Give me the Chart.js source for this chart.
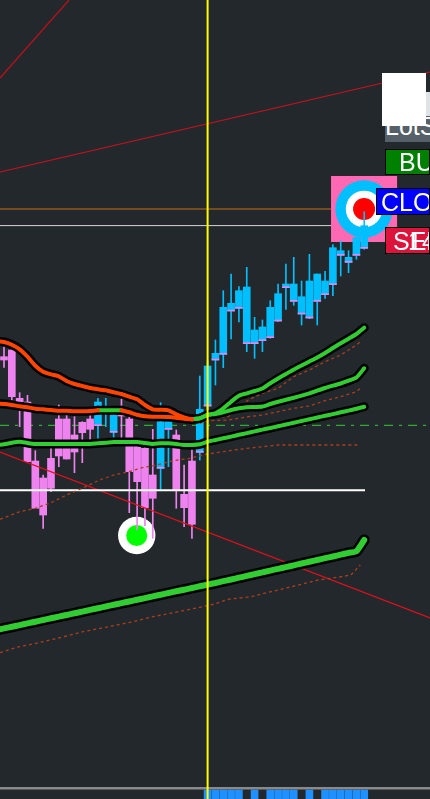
<!DOCTYPE html>
<html>
<head>
<meta charset="utf-8">
<title>chart</title>
<script src="https://cdn.jsdelivr.net/npm/chart.js@4"></script>
<style>
    html, body { margin: 0; padding: 0; background: #23282c; overflow: hidden; }
    #wrap { position: relative; width: 430px; height: 799px; overflow: hidden; }
    canvas { display: block; }
    .btn { position: absolute; box-sizing: border-box; white-space: nowrap; overflow: hidden; color: #fff;
           font-family: "Liberation Sans", sans-serif; font-size: 25px; line-height: 24px; border: 1px solid #000; }
    .btn span { position: absolute; top: 0; }
</style>
</head>
<body>
<div id="wrap">
    <canvas id="priceChart" width="430" height="799"></canvas>
    <div class="btn" style="left:385px;top:92px;width:45px;height:26px;background:#dfe3e6;border:0;color:#3a5a8a"><span style="left:2px">I</span></div>
    <div class="btn" style="left:385px;top:116px;width:45px;height:26px;background:#566068;border:0"><span style="left:0;top:-2px">LotSize</span></div>
    <div style="position:absolute;left:382px;top:73px;width:44px;height:53px;background:#fff"></div>
    <div class="btn" style="left:385px;top:149px;width:45px;height:26px;background:#008000"><span style="left:13px">BUY</span></div>
    <div class="btn" style="left:376px;top:188px;width:54px;height:27px;background:#0000ff"><span style="left:4px;top:1px">CLOSE</span></div>
    <div class="btn" style="left:385px;top:227px;width:45px;height:27px;background:#dc143c"><span style="left:7px;top:1px">SELL</span><span style="left:22px;top:1px">14</span></div>
</div>

<script>
// candles, index 0 is the left most one on screen
const opens = [442.3,449,400.7,397,338,321,340.7,380,380,364,376.7,380,373.3,387,366.7,384,380,354,350.7,324,330.7,369.7,364,304.7,338,346.7,393,439,444.7,488,490.7,455.3,455.3,458.3,461.3,478,511.3,497.7,485,481,497.7,504.3,514.3,543.7,536.7,543.7,550.7];
const closes = [439,402.3,397,337.3,290.7,284,310.7,343,340,347,366.3,369.7,397,389.7,383.7,383,327.3,317.3,291.3,300.7,377.3,377.3,309,291.3,274.7,389.7,433,445.7,491.7,495.7,508.3,512,469,472,491.7,505.3,515,515,502.3,518,525,518,551.3,548.3,541.7,561.3,573.3];
const highs = [452.3,449,406.3,403.7,348.3,324,350.7,394,384,382.3,377.3,385.7,400.7,400.7,389,400,389,360.7,359,369.7,396.3,380.7,369,334,349,423,438,459,508.3,525,512.3,531.7,481.7,479,498.3,515,535,541.7,518,544.7,525,527.7,554.3,558,548.3,563,587.3];
const lows = [431.7,399,372.3,337.3,290.7,270.7,307.3,332.3,340,326.3,336.3,359.7,360.7,372.3,361.7,355.7,286.3,269,273.3,260.7,309.7,332.3,290.7,272.3,260.7,339,369,414,431.3,460,477,447.3,440.7,447.3,460.7,477.3,489.7,493.7,474,480.3,474,500.7,503.3,523,526.3,539.7,549.7];

// moving averages, one value per candle
const emaFastOrange = [458,457,454.3,449.7,442.3,433.3,427.3,424.7,422.7,418,415,413,411,409.7,408.7,406.7,405,402.3,399.7,394,389.7,389.3,388.7,384.7,381.7,379.7]; // from -1
const emaMidOrangeA = [395.3,395,394,392.7,391.7,390.3,389.7,389,388.3,388.3,387.7,387.7,388,388.7]; // from -1
const emaMidGreen = [388.7,388.7,388.7,388.7]; // from 12
const emaMidOrangeB = [388.7,386.7,384.3,382.7,382.3,382.3,382,381.3,380.3,379.7]; // from 15
const emaFastGreen = [379.7,380.7,384,385.7,390.7,397.3,403.3,405.7,408,410.5,415.7,420.5,425,429.5,433.5,437.5,441.5,446,451,455.7,460.3,465,471.3]; // from 24
const emaMidGreen2 = [379.7,380.7,384,385,386.7,389,390.7,391.7,392,392.5,395,397.3,399.3,401.2,403.3,405.7,408.3,411,413.3,415.5,418.3,421.5,430.7]; // from 24
const emaSlowGreen = [354,354.7,356.3,357.3,356,355,355,355,355,355,355,355,355,355.7,356.3,357,357,357,357,356,355,355.7,355.7,355,354,354,354.7,357.3,359,360.7,362.4,364.2,365.9,367.6,369.4,371,372.8,374.5,376.2,378,379.7,381.5,383.2,384.9,386.7,388.4,390.2,392.3]; // from -1
const emaLongGreen = [168.9,170.6,172.2,173.9,175.6,177.3,179,180.7,182.4,184,185.7,187.4,189.1,190.8,192.5,194.2,195.9,197.5,199.2,200.9,202.6,204.3,206,207.7,209.3,211,212.7,214.4,216,217.8,219.5,221.3,223.1,224.9,226.6,228.4,230.2,231.9,233.7,235.5,237.2,239,240.8,242.5,244.3,246.1,247.8,259]; // from -1

// dotted envelopes as [candle, price]
const envTop = [[27,381.7],[28.6,382.3],[31.2,399],[33,405.7],[35,410.7],[37,422.3],[39,429],[41,437.3],[43,444],[45,454],[45.5,457.3]];
const envMid = [[25,375.7],[26,378.3],[28.6,379],[31.2,382.3],[33,384],[35,387.3],[37,390.7],[39,393],[41,398.3],[43,402.3],[45,407.3],[45.5,410.7]];
const envLow = [[-0.5,279.7],[2,287.3],[4,290.7],[6,296.3],[8,304],[10,310.7],[12.2,319],[14,324],[16,327.3],[17.8,331.7],[19.5,334],[21.6,338.3],[23.7,340.7],[26,345],[28,347.3],[30,349.7],[33,352.3],[35,354],[45.5,354]];
const envLong = [[-0.5,146.3],[1.6,151.7],[3.7,155],[5.9,159],[8,163],[10.1,167.3],[12.3,170.7],[14.4,174],[16.5,177.3],[18.6,181.7],[20.8,185],[22.9,188.3],[25,191.7],[26.9,195],[28.6,199.7],[31.6,202.3],[34.1,207.3],[37.1,213],[40.1,219],[42.6,221.7],[44.3,224],[45.5,234]];

// trend lines and levels
const trendA = [[-0.51,721],[8.3,799]];
const trendB = [[-0.51,627],[54.4,727]];
const trendC = [[-0.51,347],[54.4,181]];
const levelWhite = [[-0.51,308.7],[46.1,308.7]];
const levelOrange = [[-0.51,590],[54.4,590]];
const levelThin = [[-0.51,573.4],[46,573.4]];
const levelDash = [[-0.51,373.7],[54.4,373.7]];
const cursorLine = [[26,0],[26,799]];
const panelLine = [[-0.51,10.8],[54.4,10.8]];

// lower panel, the candles with a histogram column
const histCandles = [26,27,28,29,30,32,34,35,36,37,39,41,42,43,44,45,46];
const histTop = 9;

// signal markers [candle, price]
const targetAt = [[45.98,590]];
const buyAt = [[16.95,263.5]];

const BLUE = '#00bfff';
const PINK = '#ee82ee';
const GREEN = '#32cd32';
const RED = '#ff4500';
const ENV = '#ad3e1c';

const toPts = rows => rows.map(r => ({ x: r[0], y: r[1] }));
const fromIdx = (start, vals) => vals.map((v, i) => ({ x: start + i, y: v }));

function lineSet(data, color, width, order, extra) {
    return Object.assign({
        type: 'line', data: data, borderColor: color, borderWidth: width, pointRadius: 0,
        tension: 0, fill: false, order: order, borderCapStyle: 'butt', borderJoinStyle: 'round'
    }, extra || {});
}

function markerSet(rows, color, radius, style, order) {
    return {
        type: 'line', data: toPts(rows), showLine: false, order: order,
        pointStyle: style, pointRadius: radius, pointBorderWidth: 0, pointBackgroundColor: color
    };
}

// a moving average is a black casing with the colour on top
function emaSets(data, color, width, caseWidth) {
    const round = { borderCapStyle: 'round', tension: 0.2 };
    return [lineSet(data, '#000', caseWidth, 4, round), lineSet(data, color, width, 3, round)];
}

const idx = opens.map((v, i) => i);
const isUp = idx.map(i => closes[i] > opens[i]);
const candleColor = idx.map(i => isUp[i] ? BLUE : PINK);
const upEdges = idx.filter(i => isUp[i]);

new Chart(document.getElementById('priceChart'), {
    type: 'bar',
    data: {
        datasets: [
            // under the candles
            lineSet(toPts(levelDash), GREEN, 1, 30, { borderDash: [9, 6, 3, 6] }),
            lineSet(toPts(levelOrange), '#c2700f', 1, 29),
            lineSet(toPts(levelThin), '#d5d5d5', 1, 29),
            markerSet(targetAt, '#ff69b4', 46.7, 'rect', 28),
            markerSet(targetAt, BLUE, 28.7, 'circle', 27),
            markerSet(targetAt, '#fff', 18.3, 'circle', 26),
            markerSet(targetAt, '#ff0000', 11, 'circle', 25),
            markerSet(buyAt, '#fff', 18.7, 'circle', 24),
            markerSet(buyAt, '#00ff00', 10.5, 'circle', 23),
            // candles
            {
                data: idx.map(i => ({ x: i, y: [lows[i], highs[i]] })),
                backgroundColor: candleColor, barThickness: 1, grouped: false, order: 20
            },
            {
                data: idx.map(i => ({ x: i, y: [opens[i], closes[i]] })),
                backgroundColor: candleColor, barThickness: 7, grouped: false, order: 19
            },
            {
                data: upEdges.map(i => ({ x: i, y: [opens[i], opens[i] + 1] })),
                backgroundColor: PINK, barThickness: 7, grouped: false, order: 18
            },
            // lines over the candles
            lineSet(toPts(levelWhite), '#fff', 2, 10),
            lineSet(toPts(trendA), '#c0101a', 1.2, 10),
            lineSet(toPts(trendB), '#d0101c', 1.2, 10),
            lineSet(toPts(trendC), '#e0101c', 1.2, 10),
            lineSet(toPts(envTop), ENV, 1.3, 9, { borderDash: [3, 3] }),
            lineSet(toPts(envMid), ENV, 1.3, 9, { borderDash: [3, 3] }),
            lineSet(toPts(envLow), ENV, 1.3, 9, { borderDash: [3, 3] }),
            lineSet(toPts(envLong), ENV, 1.3, 9, { borderDash: [3, 3] }),
            ...emaSets(fromIdx(-1, emaLongGreen), GREEN, 6, 11),
            ...emaSets(fromIdx(-1, emaSlowGreen), GREEN, 4, 9),
            ...emaSets(fromIdx(-1, emaFastOrange), RED, 4, 9),
            ...emaSets(fromIdx(-1, emaMidOrangeA), RED, 4, 9),
            ...emaSets(fromIdx(15, emaMidOrangeB), RED, 4, 9),
            ...emaSets(fromIdx(12, emaMidGreen), GREEN, 4, 9),
            ...emaSets(fromIdx(24, emaFastGreen), GREEN, 4, 9),
            ...emaSets(fromIdx(24, emaMidGreen2), GREEN, 4, 9),
            // lower panel
            {
                data: histCandles.map(i => ({ x: i, y: [0, histTop] })),
                backgroundColor: '#1e90ff', barThickness: 7, grouped: false, order: 2
            },
            lineSet(toPts(panelLine), '#8a8a8a', 2.5, 1),
            lineSet(toPts(cursorLine), '#ffff00', 2, 0)
        ]
    },
    options: {
        responsive: false,
        animation: false,
        events: [],
        layout: { padding: 0, autoPadding: false },
        plugins: { legend: { display: false }, tooltip: { enabled: false } },
        scales: {
            x: { type: 'linear', min: -0.51, max: 54.4, offset: false, display: false },
            y: { type: 'linear', min: 0, max: 799, display: false }
        }
    }
});
</script>
</body>
</html>
